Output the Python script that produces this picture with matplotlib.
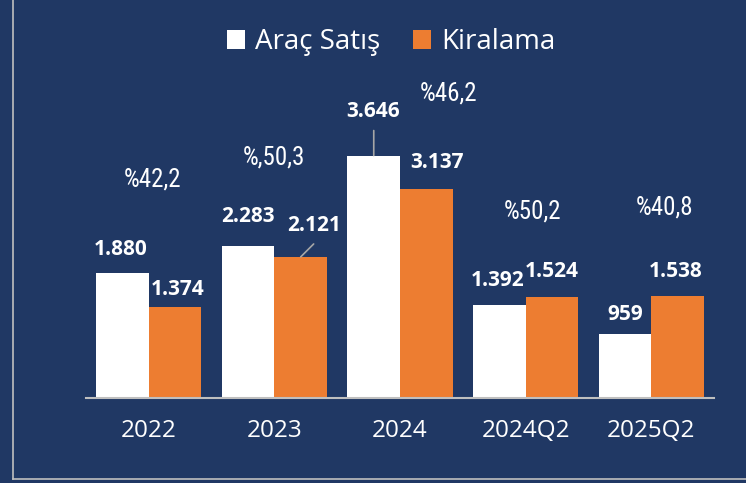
import matplotlib
matplotlib.use("Agg")
import matplotlib.pyplot as plt
from matplotlib.patches import Patch
from matplotlib.lines import Line2D
import numpy as np

categories = ["2022", "2023", "2024", "2024Q2", "2025Q2"]
arac_satis = [1880, 2283, 3646, 1392, 959]
kiralama = [1374, 2121, 3137, 1524, 1538]
arac_labels = ["1.880", "2.283", "3.646", "1.392", "959"]
kira_labels = ["1.374", "2.121", "3.137", "1.524", "1.538"]
pct_labels = ["%42,2", "%,50,3", "%46,2", "%50,2", "%40,8"]
series_names = ["Araç Satış", "Kiralama"]

NAVY = "#203864"
ORANGE = "#ED7D31"
W, H = 746, 483

fig = plt.figure(figsize=(W / 100, H / 100), dpi=100, facecolor=NAVY)
ax = fig.add_axes([86 / W, (H - 398) / H, (714 - 86) / W, 266 / H])
ax.set_facecolor(NAVY)

x = np.arange(len(categories))
bw = 0.418
b1 = ax.bar(x - bw / 2, arac_satis, bw, color="white", zorder=2)
b2 = ax.bar(x + bw / 2, kiralama, bw, color=ORANGE, zorder=2)
ax.set_xlim(-0.5, len(categories) - 0.5)
ax.set_ylim(0, 4000)

for s in ["top", "right", "left"]:
    ax.spines[s].set_visible(False)
ax.spines["bottom"].set_color("#BFBFBF")
ax.spines["bottom"].set_linewidth(1.5)
ax.set_yticks([])
ax.set_xticks(x)
ax.set_xticklabels(categories, color="white", fontsize=17.5, family="Open Sans")
ax.tick_params(axis="x", length=0, pad=15)

vfont = dict(color="white", fontsize=15, fontweight="bold", family="Open Sans",
             ha="center", va="center", annotation_clip=False)
# label offsets in pixels (dx, dy up) relative to bar top center
off1 = [(-2, 23), (0, 30), (-1, 44), (-2, 25), (0, 20)]
off2 = [(3, 17), (13, 31), (11, 27), (0, 25), (-2, 24)]
px = 0.72
for i, (bar, lab) in enumerate(zip(b1, arac_labels)):
    xc = bar.get_x() + bar.get_width() / 2
    dx, dy = off1[i]
    ax.annotate(lab, (xc, bar.get_height()), xytext=(dx * px, dy * px),
                textcoords="offset points", **vfont)
for i, (bar, lab) in enumerate(zip(b2, kira_labels)):
    xc = bar.get_x() + bar.get_width() / 2
    dx, dy = off2[i]
    ax.annotate(lab, (xc, bar.get_height()), xytext=(dx * px, dy * px),
                textcoords="offset points", **vfont)

# leader lines
b = b1[2]
xc = b.get_x() + b.get_width() / 2
ax.annotate("", (xc, b.get_height()), xytext=(0, 25 * px), textcoords="offset points",
            arrowprops=dict(arrowstyle="-", color="#A6A6A6", lw=1.2, shrinkA=0, shrinkB=0),
            annotation_clip=False)
b = b2[1]
xc = b.get_x() + b.get_width() / 2
ax.annotate("", (xc, b.get_height()), xytext=(13 * px, 13 * px), textcoords="offset points",
            arrowprops=dict(arrowstyle="-", color="#A6A6A6", lw=1.2, shrinkA=0, shrinkB=0),
            annotation_clip=False)

# percentage labels (placed by pixel offsets from category centre / baseline)
pct_pos = [(4, 218), (0, 241), (49, 305), (7, 186), (13, 191)]
narrow = ["Liberation Sans Narrow", "DejaVu Sans Condensed", "Roboto Condensed", "Roboto"]
for i, lab in enumerate(pct_labels):
    dx, dy = pct_pos[i]
    ax.annotate(lab, (x[i], 0), xytext=(dx * px, dy * px), textcoords="offset points",
                color="white", fontsize=18, family=narrow, fontstretch="condensed",
                ha="center", va="center", annotation_clip=False)

handles = [Patch(facecolor="white", edgecolor="none"), Patch(facecolor=ORANGE, edgecolor="none")]
leg = fig.legend(handles, series_names, loc="center", bbox_to_anchor=(391 / W, 1 - 42 / H),
                 ncol=2, frameon=False, handlelength=0.65, handleheight=0.65,
                 handletextpad=0.35, columnspacing=1.2,
                 prop=dict(family="Open Sans", size=20))
for t in leg.get_texts():
    t.set_color("white")

# frame lines
fig.add_artist(Line2D([12.5 / W, 12.5 / W], [1, 1 - 479 / H], transform=fig.transFigure,
                      color="#BFBFBF", lw=1.2))
fig.add_artist(Line2D([12.5 / W, 1], [1 - 479 / H, 1 - 479 / H], transform=fig.transFigure,
                      color="#BFBFBF", lw=1.2))

fig.savefig("out.png", dpi=100, facecolor=NAVY)
